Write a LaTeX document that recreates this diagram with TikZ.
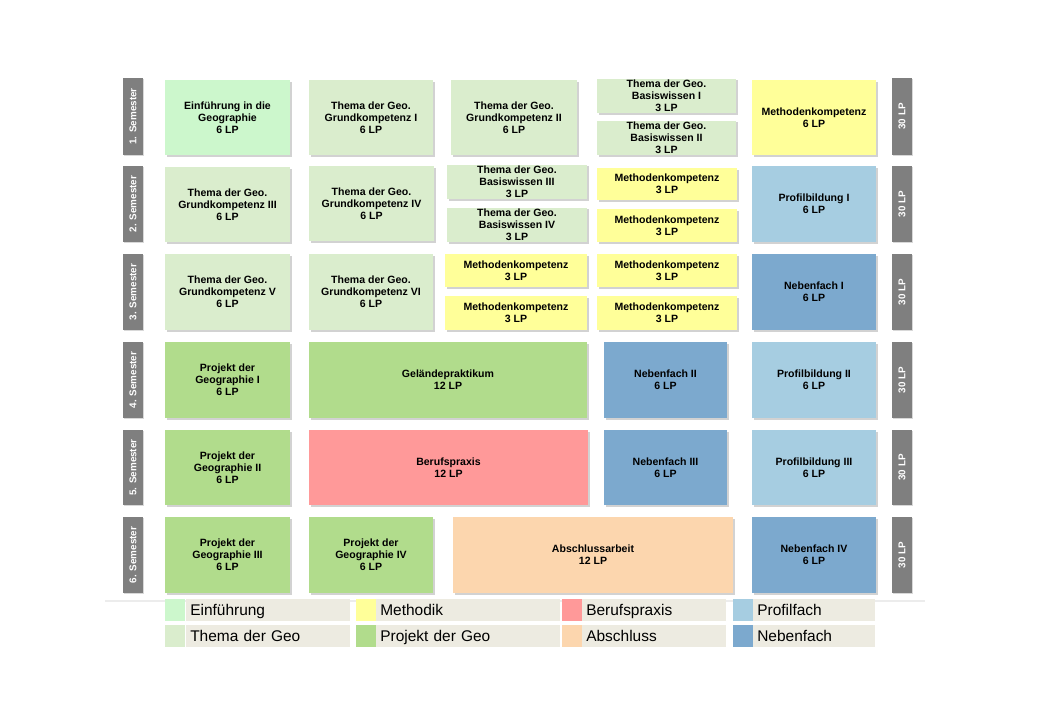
\documentclass[tikz,border=0pt]{standalone}
\usepackage{fontspec}
\setmainfont{Liberation Sans}
\usetikzlibrary{shadows}
\definecolor{einf}{HTML}{CCF7CC}
\definecolor{thema}{HTML}{DAEDCD}
\definecolor{meth}{HTML}{FFFF99}
\definecolor{beruf}{HTML}{FF9999}
\definecolor{profil}{HTML}{A6CDE1}
\definecolor{projekt}{HTML}{B1DC8C}
\definecolor{absch}{HTML}{FCD6AE}
\definecolor{neben}{HTML}{7CA9CE}
\definecolor{semgrey}{HTML}{7F7F7F}
\definecolor{legbg}{HTML}{EDEBE1}
% box from pixel corners
\newcommand{\modbox}[7]{%
  \pgfmathsetmacro{\cx}{(#2+#4)/2}\pgfmathsetmacro{\cy}{(#3+#5)/2}%
  \pgfmathsetmacro{\bw}{(#4-#2)*0.025}\pgfmathsetmacro{\bh}{(#5-#3)*0.025}%
  \node[modul, fill=#6, minimum width=\bw cm, minimum height=\bh cm] (#1) at (\cx,\cy) {#7};}
\newcommand{\sembox}[4]{%
  \pgfmathsetmacro{\cy}{(#2+#3)/2}\pgfmathsetmacro{\bh}{(#3-#2)*0.025}%
  \node[semlabel, minimum width=\bh cm] (#1) at (#4,\cy) {};}
\begin{document}
\begin{tikzpicture}[x=0.025cm, y=-0.025cm,
    modul/.style={
        rectangle,
        inner sep=1pt,
        align=center,
        font=\fontsize{7.5}{8.5}\selectfont\bfseries,
        drop shadow={shadow xshift=1.2pt, shadow yshift=-1.2pt, opacity=0.35}
    },
    semlabel/.style={
        rectangle,
        fill=semgrey,
        rotate=90,
        minimum height=0.5cm,
        inner sep=0pt,
        text=white,
        font=\fontsize{7}{8}\selectfont\bfseries,
        drop shadow={shadow xshift=1pt, shadow yshift=-1pt, opacity=0.3}
    },
    legbox/.style={
        rectangle,
        fill=legbg,
        anchor=west,
        inner sep=0pt,
        minimum height=0.57cm,
        text depth=0pt,
        font=\fontsize{11}{12}\selectfont
    },
    swatch/.style={
        rectangle,
        anchor=west,
        inner sep=0pt,
        minimum height=0.57cm,
        minimum width=0.5cm
    }
]
\useasboundingbox[fill=white] (0,0) rectangle (1040,720);

% separator line
\draw[gray!15, line width=1pt] (105,601) -- (925,601);

% Semester labels
\foreach \n/\ya/\yb in {1/78/155, 2/166/242, 3/254/330, 4/342/418, 5/430/505, 6/517/593}{
  \sembox{sem\n}{\ya}{\yb}{133}
  \node[text=white, rotate=90, font=\fontsize{7}{8}\selectfont\bfseries] (semt\n) at (sem\n) {\n. Semester};
  \sembox{lp\n}{\ya}{\yb}{902}
  \node[text=white, rotate=90, font=\fontsize{7}{8}\selectfont\bfseries] (lpt\n) at (lp\n) {30 LP};
}

% 1. Semester
\modbox{m11}{165}{80}{290}{155}{einf}{Einführung in die\\Geographie\\6 LP}
\modbox{m12}{309}{80}{433}{155}{thema}{Thema der Geo.\\Grundkompetenz I\\6 LP}
\modbox{m13}{451}{80}{577}{155}{thema}{Thema der Geo.\\Grundkompetenz II\\6 LP}
\modbox{m14a}{597}{80}{736}{112}{thema}{Thema der Geo.\\Basiswissen I\\3 LP}
\modbox{m14b}{597}{121}{736}{155}{thema}{Thema der Geo.\\Basiswissen II\\3 LP}
\modbox{m15}{752}{80}{876}{155}{meth}{Methodenkompetenz\\6 LP}

% 2. Semester
\modbox{m21}{165}{167}{290}{242}{thema}{Thema der Geo.\\Grundkompetenz III\\6 LP}
\modbox{m22}{309}{166}{434}{241}{thema}{Thema der Geo.\\Grundkompetenz IV\\6 LP}
\modbox{m23a}{447}{166}{587}{198}{thema}{Thema der Geo.\\Basiswissen III\\3 LP}
\modbox{m23b}{447}{208}{587}{242}{thema}{Thema der Geo.\\Basiswissen IV\\3 LP}
\modbox{m24a}{597}{168}{737}{200}{meth}{Methodenkompetenz\\3 LP}
\modbox{m24b}{597}{209}{737}{242}{meth}{Methodenkompetenz\\3 LP}
\modbox{m25}{752}{166}{876}{242}{profil}{Profilbildung I\\6 LP}

% 3. Semester
\modbox{m31}{165}{254}{290}{330}{thema}{Thema der Geo.\\Grundkompetenz V\\6 LP}
\modbox{m32}{309}{254}{433}{330}{thema}{Thema der Geo.\\Grundkompetenz VI\\6 LP}
\modbox{m33a}{445}{254}{587}{287}{meth}{Methodenkompetenz\\3 LP}
\modbox{m33b}{445}{296}{587}{330}{meth}{Methodenkompetenz\\3 LP}
\modbox{m34a}{597}{254}{737}{287}{meth}{Methodenkompetenz\\3 LP}
\modbox{m34b}{597}{296}{737}{330}{meth}{Methodenkompetenz\\3 LP}
\modbox{m35}{752}{254}{876}{330}{neben}{Nebenfach I\\6 LP}

% 4. Semester
\modbox{m41}{165}{342}{290}{418}{projekt}{Projekt der\\Geographie I\\6 LP}
\modbox{m42}{309}{342}{587}{418}{projekt}{Geländepraktikum\\12 LP}
\modbox{m43}{604}{342}{727}{418}{neben}{Nebenfach II\\6 LP}
\modbox{m44}{752}{342}{876}{418}{profil}{Profilbildung II\\6 LP}

% 5. Semester
\modbox{m51}{165}{430}{290}{505}{projekt}{Projekt der\\Geographie II\\6 LP}
\modbox{m52}{309}{430}{588}{505}{beruf}{Berufspraxis\\12 LP}
\modbox{m53}{604}{430}{727}{505}{neben}{Nebenfach III\\6 LP}
\modbox{m54}{752}{430}{876}{505}{profil}{Profilbildung III\\6 LP}

% 6. Semester
\modbox{m61}{165}{517}{290}{593}{projekt}{Projekt der\\Geographie III\\6 LP}
\modbox{m62}{309}{517}{433}{593}{projekt}{Projekt der\\Geographie IV\\6 LP}
\modbox{m63}{453}{517}{733}{593}{absch}{Abschlussarbeit\\12 LP}
\modbox{m64}{752}{517}{876}{593}{neben}{Nebenfach IV\\6 LP}

% Legend
\foreach \sx/\lx/\lw/\y/\c/\t in {165/186/4.1/610/einf/Einführung, 356/376/4.6/610/meth/Methodik,
    562/582/3.6/610/beruf/Berufspraxis, 733/753/3.05/610/profil/Profilfach,
    165/186/4.1/636/thema/Thema der Geo, 356/376/4.6/636/projekt/Projekt der Geo,
    562/582/3.6/636/absch/Abschluss, 733/753/3.05/636/neben/Nebenfach}{
  \node[swatch, fill=\c] (sw-\c) at (\sx,\y) {};
  \node[legbox, minimum width=\lw cm, text width=\lw cm-0.2cm, align=left, inner xsep=0.1cm] (lg-\c) at (\lx,\y) {\t};
}
\end{tikzpicture}
\end{document}
